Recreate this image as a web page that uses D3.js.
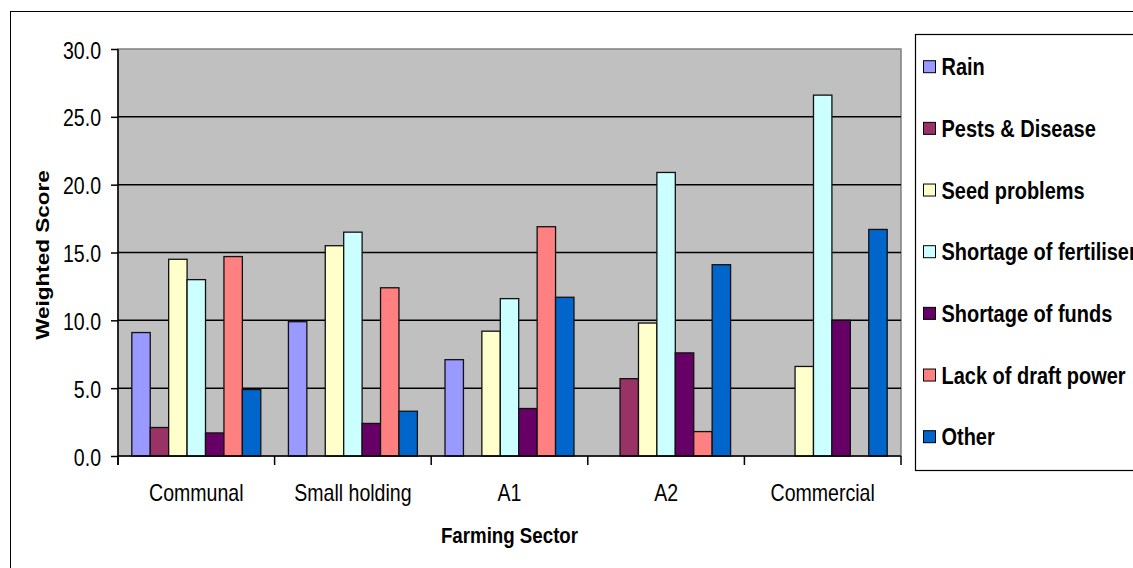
<!DOCTYPE html>
<html>
<head>
<meta charset="utf-8">
<script src="https://cdn.jsdelivr.net/npm/d3@7"></script>
<style>
  html, body { margin: 0; padding: 0; background: #ffffff; }
  svg { display: block; }
  text { font-family: "Liberation Sans", Arial, sans-serif; fill: #000; }
</style>
</head>
<body>
<svg id="chart" width="1133" height="568"></svg>
<script>
// Farming sectors along the x axis
const sectors = ["Communal", "Small holding", "A1", "A2", "Commercial"];

// Constraint types (one bar per sector each)
const constraints = ["Rain", "Pests & Disease", "Seed problems", "Shortage of fertiliser",
                     "Shortage of funds", "Lack of draft power", "Other"];
const constraintColors = ["#9999FF", "#993366", "#FFFFCC", "#CCFFFF", "#660066", "#FF8080", "#0066CC"];

// Weighted scores per constraint, in sector order
const rain        = [9.1, 9.9, 7.1, 0.0, 0.0];
const pests       = [2.1, 0.0, 0.0, 5.7, 0.0];
const seed        = [14.5, 15.5, 9.2, 9.8, 6.6];
const fertiliser  = [13.0, 16.5, 11.6, 20.9, 26.6];
const funds       = [1.7, 2.4, 3.5, 7.6, 10.0];
const draftPower  = [14.7, 12.4, 16.9, 1.8, 0.0];
const other       = [4.9, 3.3, 11.7, 14.1, 16.7];

// Y axis ticks
const yTicks = [0, 5, 10, 15, 20, 25, 30];

const seriesValues = [rain, pests, seed, fertiliser, funds, draftPower, other];

const svg = d3.select("#chart");
const plot = { left: 118, right: 901, top: 49, bottom: 456 };
const SQ = 0.85;   // horizontal compression of all lettering
const FS = 23;

function place(sel, x, y, rot) {
  sel.attr("transform", `translate(${x},${y}) scale(${SQ},1)` + (rot ? ` rotate(${rot})` : ""));
  return sel;
}

// Outer chart frame
svg.append("rect")
  .attr("x", 10.5).attr("y", 11.5)
  .attr("width", 1200).attr("height", 600)
  .attr("fill", "#fff").attr("stroke", "#000").attr("stroke-width", 1);

const x0 = d3.scaleBand().domain(sectors).range([plot.left, plot.right]).padding(0);
const x1 = d3.scaleBand().domain(constraints).range([0, x0.bandwidth()])
  .paddingInner(0).paddingOuter(0.75);
const y = d3.scaleLinear().domain([0, 30]).range([plot.bottom, plot.top]);

// Plot area background
svg.append("rect")
  .attr("x", plot.left).attr("y", plot.top)
  .attr("width", plot.right - plot.left).attr("height", plot.bottom - plot.top)
  .attr("fill", "#C0C0C0").attr("stroke", "#808080").attr("stroke-width", 1.5);

// Horizontal gridlines
svg.append("g")
  .selectAll("line")
  .data(yTicks.filter(t => t > 0 && t < 30))
  .join("line")
  .attr("x1", plot.left).attr("x2", plot.right)
  .attr("y1", d => y(d)).attr("y2", d => y(d))
  .attr("stroke", "#000").attr("stroke-width", 1.5);

// Bars
const groups = svg.append("g")
  .selectAll("g")
  .data(sectors)
  .join("g")
  .attr("transform", d => `translate(${x0(d)},0)`);

groups.selectAll("rect")
  .data((s, i) => constraints.map((c, k) => ({ c, k, v: seriesValues[k][i] })).filter(d => d.v > 0))
  .join("rect")
  .attr("x", d => x1(d.c))
  .attr("width", x1.bandwidth())
  .attr("y", d => y(d.v))
  .attr("height", d => y(0) - y(d.v))
  .attr("fill", d => constraintColors[d.k])
  .attr("stroke", "#111").attr("stroke-width", 1.3);

// Y axis
const yAxis = svg.append("g")
  .attr("transform", `translate(${plot.left},0)`)
  .call(d3.axisLeft(y).tickValues(yTicks).tickSize(7).tickFormat(d3.format(".1f")));
yAxis.select(".domain").attr("stroke", "#000").attr("stroke-width", 1.5)
  .attr("d", `M0,${plot.top}V${plot.bottom + 9}`);
yAxis.selectAll(".tick line").attr("stroke", "#000").attr("stroke-width", 1.5);
yAxis.selectAll(".tick text").each(function () {
  d3.select(this).attr("x", null).attr("dy", null)
    .attr("text-anchor", "end")
    .style("font-size", FS + "px")
    .style("font-family", "'Liberation Sans', Arial, sans-serif")
    .attr("dominant-baseline", "central");
  place(d3.select(this), -17, 1.5);
});

// X axis
const xAxis = svg.append("g")
  .attr("transform", `translate(0,${plot.bottom})`)
  .call(d3.axisBottom(x0).tickSize(0).tickFormat(""));
xAxis.select(".domain").attr("stroke", "#000").attr("stroke-width", 1.5)
  .attr("d", `M${plot.left},0H${plot.right}`);
xAxis.selectAll(".tick").remove();

// Category boundary ticks
const boundaries = sectors.map(s => x0(s)).concat([plot.right]);
svg.append("g").selectAll("line")
  .data(boundaries)
  .join("line")
  .attr("x1", d => d).attr("x2", d => d)
  .attr("y1", plot.bottom).attr("y2", plot.bottom + 9)
  .attr("stroke", "#000").attr("stroke-width", 1.5);

// Category labels
svg.append("g").selectAll("text")
  .data(sectors)
  .join("text")
  .attr("text-anchor", "middle")
  .style("font-size", FS + "px")
  .text(d => d)
  .each(function (d) { place(d3.select(this), x0(d) + x0.bandwidth() / 2, 501); });

// Axis titles
place(svg.append("text")
  .attr("text-anchor", "middle")
  .style("font-size", "22px").style("font-weight", "bold")
  .text("Farming Sector"), (plot.left + plot.right) / 2, 543);

place(svg.append("text")
  .attr("text-anchor", "middle")
  .style("font-size", "22.5px").style("font-weight", "bold")
  .text("Weighted Score"), 49, 255, -90);

// Legend
const legend = svg.append("g");
legend.append("rect")
  .attr("x", 915.5).attr("y", 34.5).attr("width", 300).attr("height", 436)
  .attr("fill", "#fff").attr("stroke", "#000").attr("stroke-width", 1.2);

const ly = d3.scalePoint().domain(constraints).range([66.7, 436.7]);
const items = legend.selectAll("g.item")
  .data(constraints)
  .join("g").attr("class", "item");
items.append("rect")
  .attr("x", 923.5).attr("y", d => ly(d) - 6)
  .attr("width", 12).attr("height", 12)
  .attr("fill", (d, i) => constraintColors[i])
  .attr("stroke", "#000").attr("stroke-width", 1);
items.append("text")
  .style("font-size", "23.5px").style("font-weight", "bold")
  .text(d => d)
  .each(function (d) { place(d3.select(this), 941.5, ly(d) + 8.5); });
</script>
</body>
</html>
